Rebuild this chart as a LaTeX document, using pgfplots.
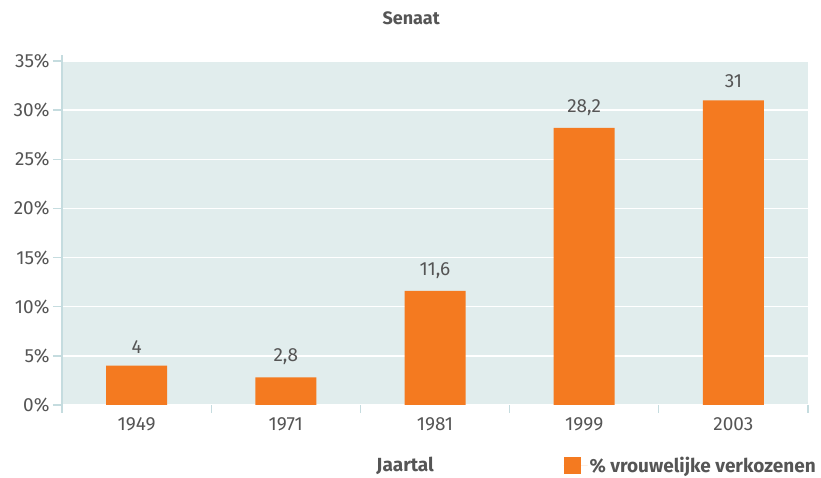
\documentclass[border=0pt]{standalone}
\usepackage{pgfplots}
\pgfplotsset{compat=1.18}
\usepackage{fontspec}
\setmainfont{Fira Sans}
\definecolor{bg}{HTML}{E1EDED}
\definecolor{axc}{HTML}{C5DCDF}
\definecolor{barc}{HTML}{F47A20}
\definecolor{txt}{HTML}{555555}
\begin{document}
\begin{tikzpicture}
\useasboundingbox (0,0) rectangle (821pt,478pt);
\begin{axis}[
  at={(62pt,73pt)}, anchor=south west,
  scale only axis, width=746pt, height=344pt,
  xmin=-0.5, xmax=4.5, ymin=0, ymax=35,
  axis background/.style={fill=bg},
  axis x line*=bottom, axis y line*=left,
  x axis line style={draw=none},
  y axis line style={draw=axc, line width=1.5pt, shorten <=-8pt, shorten >=-6pt},
  tick align=outside, major tick length=9pt,
  xtick={0,...,4}, xticklabels={1949,1971,1981,1999,2003},
  xtick style={draw=none},
  extra x ticks={-0.5,0.5,1.5,2.5,3.5,4.5}, extra x tick labels={},
  extra x tick style={xtick style={draw=axc, line width=1.2pt}, major tick length=8pt},
  ytick={0,5,...,35},
  yticklabel={\pgfmathprintnumber{\tick}\%},
  ytick style={draw=axc, line width=1.5pt},
  ymajorgrids, major grid style={white, line width=1.5pt},
  tick label style={font=\fontsize{19}{19}\selectfont, text=txt},
  /pgf/number format/assume math mode=true,
  /pgf/number format/use comma,
  ybar, bar width=61pt,
  nodes near coords,
  nodes near coords style={font=\fontsize{19}{19}\selectfont, text=txt, yshift=9pt},
  title={Senaat},
  title style={font=\bfseries\fontsize{18}{18}\selectfont, text=txt, at={(axis description cs:0.468,1)}, anchor=center, yshift=37pt},
  xlabel={Jaartal},
  xlabel style={font=\bfseries\fontsize{19}{19}\selectfont, text=txt, at={(axis description cs:0.46,0)}, anchor=center, yshift=-61pt},
  legend style={at={(axis description cs:0.672,0)}, anchor=west, yshift=-61pt, draw=none, fill=none, font=\bfseries\fontsize{19}{19}\selectfont, text=txt, inner sep=0pt},
  legend image code/.code={\fill[barc] (0pt,-8.5pt) rectangle (17pt,8.5pt); \path (0pt,0pt) -- (24pt,0pt);},
]
\addplot[fill=barc, draw=none] coordinates {(0,4) (1,2.8) (2,11.6) (3,28.2) (4,31)};
\addlegendentry{\% vrouwelijke verkozenen}
\end{axis}
\end{tikzpicture}
\end{document}
